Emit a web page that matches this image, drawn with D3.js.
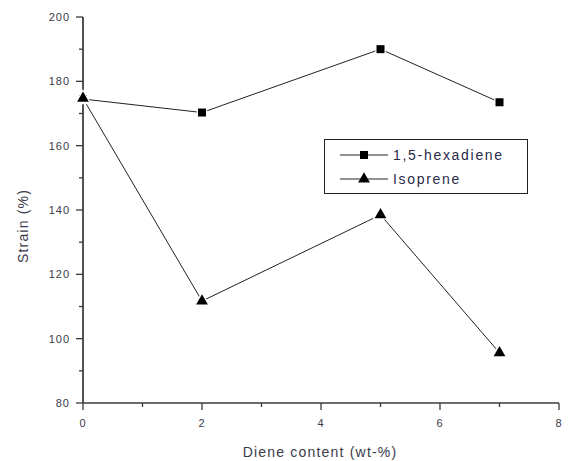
<!DOCTYPE html>
<html>
<head>
<meta charset="utf-8">
<script src="https://cdn.jsdelivr.net/npm/d3@7"></script>
<style>
  html, body { margin: 0; padding: 0; background: #fff; }
  svg { display: block; font-family: "Liberation Sans", Arial, sans-serif; }
</style>
</head>
<body>
<svg id="chart" width="568" height="461"></svg>
<script>
// Diene content (wt-%) and strain (%) for the two dienes
const dieneContent = [0, 2, 5, 7];
const hexadieneStrain = [174.5, 170.3, 190.0, 173.5];
const isopreneStrain = [174.7, 111.7, 138.5, 95.6];
const seriesNames = ["1,5-hexadiene", "Isoprene"];
const xTicks = [0, 2, 4, 6, 8];
const yTicks = [80, 100, 120, 140, 160, 180, 200];

const svg = d3.select("#chart");
const axisColor = "#3a3a3a";
const textColor = "#3a3a4a";

const x = d3.scaleLinear().domain([0, 8]).range([83, 559]);
const y = d3.scaleLinear().domain([80, 200]).range([403, 17]);

// minor ticks
const xMinor = d3.range(1, 8, 2);
const yMinor = d3.range(90, 200, 20);

const gx = svg.append("g").attr("transform", `translate(0,${y(80)})`);
gx.append("line").attr("x1", x(0)).attr("x2", x(8)).attr("stroke", axisColor).attr("stroke-width", 1.3);
gx.selectAll(".maj").data(xTicks).join("line")
  .attr("x1", d => x(d)).attr("x2", d => x(d)).attr("y1", 0).attr("y2", 7)
  .attr("stroke", axisColor).attr("stroke-width", 1.3);
gx.selectAll(".min").data(xMinor).join("line")
  .attr("x1", d => x(d)).attr("x2", d => x(d)).attr("y1", 0).attr("y2", 4)
  .attr("stroke", axisColor).attr("stroke-width", 1.3);
gx.selectAll("text").data(xTicks).join("text")
  .attr("x", d => x(d)).attr("y", 24)
  .attr("text-anchor", "middle").attr("font-size", 11).attr("fill", textColor)
  .attr("letter-spacing", 1)
  .text(d => d);

const gy = svg.append("g").attr("transform", `translate(${x(0)},0)`);
gy.append("line").attr("y1", y(80)).attr("y2", y(200)).attr("stroke", axisColor).attr("stroke-width", 1.3);
gy.selectAll(".maj").data(yTicks).join("line")
  .attr("y1", d => y(d)).attr("y2", d => y(d)).attr("x1", 0).attr("x2", -7)
  .attr("stroke", axisColor).attr("stroke-width", 1.3);
gy.selectAll(".min").data(yMinor).join("line")
  .attr("y1", d => y(d)).attr("y2", d => y(d)).attr("x1", 0).attr("x2", -4)
  .attr("stroke", axisColor).attr("stroke-width", 1.3);
gy.selectAll("text").data(yTicks).join("text")
  .attr("x", -13).attr("y", d => y(d)).attr("dy", "0.35em")
  .attr("text-anchor", "end").attr("font-size", 11).attr("fill", textColor)
  .attr("letter-spacing", 1)
  .text(d => d);

// axis titles
svg.append("text")
  .attr("x", 320).attr("y", 457)
  .attr("text-anchor", "middle").attr("font-size", 14).attr("fill", textColor)
  .attr("letter-spacing", 1.2)
  .text("Diene content (wt-%)");
svg.append("text")
  .attr("transform", `translate(28,226) rotate(-90)`)
  .attr("text-anchor", "middle").attr("font-size", 14).attr("fill", textColor)
  .attr("letter-spacing", 1.2)
  .text("Strain (%)");

const line = d3.line().x(d => x(d[0])).y(d => y(d[1]));
const hexData = dieneContent.map((d, i) => [d, hexadieneStrain[i]]);
const isoData = dieneContent.map((d, i) => [d, isopreneStrain[i]]);

svg.append("path").attr("d", line(hexData)).attr("fill", "none").attr("stroke", "#222").attr("stroke-width", 1);
svg.append("path").attr("d", line(isoData)).attr("fill", "none").attr("stroke", "#222").attr("stroke-width", 1);

const square = d3.symbol().type(d3.symbolSquare).size(64);
const triangle = d3.symbol().type(d3.symbolTriangle).size(60);

svg.selectAll(".hex").data(hexData).join("path")
  .attr("transform", d => `translate(${x(d[0])},${y(d[1])})`)
  .attr("d", square()).attr("fill", "#000").attr("stroke", "#fff").attr("stroke-width", 2.5)
  .attr("paint-order", "stroke");
svg.selectAll(".iso").data(isoData).join("path")
  .attr("transform", d => `translate(${x(d[0])},${y(d[1])})`)
  .attr("d", triangle()).attr("fill", "#000").attr("stroke", "#fff").attr("stroke-width", 2.5)
  .attr("paint-order", "stroke");

// redraw y axis line over the first points
gy.append("line").attr("y1", y(80)).attr("y2", y(200)).attr("stroke", axisColor).attr("stroke-width", 1.3);

// legend
const lg = svg.append("g");
lg.append("rect").attr("x", 324.5).attr("y", 139.5).attr("width", 203).attr("height", 54)
  .attr("fill", "#fff").attr("stroke", "#222").attr("stroke-width", 1);
const rows = [
  { name: seriesNames[0], sym: square },
  { name: seriesNames[1], sym: triangle }
];
rows.forEach((r, i) => {
  const cy = 155 + i * 24;
  lg.append("line").attr("x1", 340).attr("x2", 388).attr("y1", cy).attr("y2", cy)
    .attr("stroke", "#222").attr("stroke-width", 1);
  lg.append("path").attr("transform", `translate(364,${cy})`).attr("d", r.sym()).attr("fill", "#000");
  lg.append("text").attr("x", 393).attr("y", cy).attr("dy", "0.36em")
    .attr("font-size", 14).attr("fill", "#2a2a4a").attr("letter-spacing", 1.7)
    .text(r.name);
});
</script>
</body>
</html>
